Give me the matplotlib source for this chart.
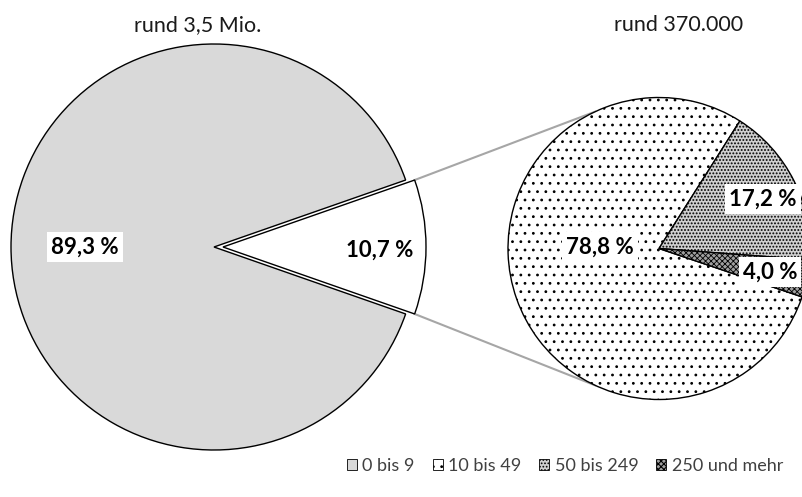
import matplotlib
matplotlib.use("Agg")
import matplotlib.pyplot as plt
from matplotlib.patches import Patch
import numpy as np

plt.rcParams['font.family'] = ['Lato', 'DejaVu Sans']
plt.rcParams['hatch.linewidth'] = 0.8

# ---- data ----
main_values = [89.3, 10.7]
main_labels = ["89,3 %", "10,7 %"]
sub_values = [78.8, 17.2, 4.0]
sub_labels = ["78,8 %", "17,2 %", "4,0 %"]
titles = ["rund 3,5 Mio.", "rund 370.000"]
legend_names = ["0 bis 9", "10 bis 49", "50 bis 249", "250 und mehr"]

W, H = 803, 497
fig = plt.figure(figsize=(W / 100, H / 100), dpi=100)
ax = fig.add_axes([0, 0, 1, 1])

def Y(py):
    return H - py

styles = [
    dict(facecolor='#d9d9d9', hatch=None, hlw=0.8),
    dict(facecolor='white', hatch='..', hlw=0.8),
    dict(facecolor='#d0d0d0', hatch='.....', hlw=0.9),
    dict(facecolor='#a0a0a0', hatch='xxxxxx', hlw=0.6),
]

def set_hlw(p, v):
    if hasattr(p, 'set_hatch_linewidth'):
        p.set_hatch_linewidth(v)
    else:
        p._hatch_linewidth = v

# left pie
lc = (214, Y(247))
lr = 203
start_main = 360 * main_values[1] / sum(main_values) / 2
wl, _ = ax.pie(main_values, center=lc, radius=lr, startangle=start_main,
               explode=[0, 9], colors=['#d9d9d9', 'white'],
               wedgeprops=dict(edgecolor='black', linewidth=1.0), frame=True)

# right pie
rc = (659, Y(248.5))
rr = 151
wr, _ = ax.pie(sub_values, center=rc, radius=rr, startangle=-18.7,
               counterclock=False, colors=['white'] * 3,
               wedgeprops=dict(edgecolor='black', linewidth=1.0), frame=True)
for w, st in zip(wr, styles[1:]):
    w.set_facecolor(st['facecolor'])
    w.set_hatch(st['hatch'])
    set_hlw(w, st['hlw'])

ax.set_xlim(0, W)
ax.set_ylim(0, H)
ax.axis('off')

# connector lines
white = wl[1]
cx, cy = white.center
rw = white.r
for th, phi in [(white.theta2, 115), (white.theta1, -115)]:
    x0 = cx + rw * np.cos(np.radians(th))
    y0 = cy + rw * np.sin(np.radians(th))
    x1 = rc[0] + rr * np.cos(np.radians(phi))
    y1 = rc[1] + rr * np.sin(np.radians(phi))
    ax.plot([x0, x1], [y0, y1], color='#a6a6a6', lw=1.5, zorder=0.5)

# titles
ax.text(198, Y(25), titles[0], ha='center', va='center', fontsize=15.5,
        color='#1a1a1a')
ax.text(679, Y(25), titles[1], ha='center', va='center', fontsize=15.5,
        color='#1a1a1a')

bbox = dict(facecolor='white', edgecolor='none', pad=3)
lab_pos_main = [(85, 247), (380, 250)]
for (px, py), t in zip(lab_pos_main, main_labels):
    ax.text(px, Y(py), t, ha='center', va='center', fontsize=16,
            fontweight='bold', bbox=bbox if t == main_labels[0] else None)
lab_pos_sub = [(600, 247), (763, 199), (770, 272)]
for (px, py), t in zip(lab_pos_sub, sub_labels):
    ax.text(px, Y(py), t, ha='center', va='center', fontsize=16,
            fontweight='bold', bbox=bbox)

handles = []
for s in styles:
    p = Patch(facecolor=s['facecolor'], hatch=s['hatch'], edgecolor='black',
              linewidth=0.6)
    set_hlw(p, s['hlw'])
    handles.append(p)
ax.legend(handles, legend_names, loc='center', ncol=4, frameon=False,
          bbox_to_anchor=(565 / W, (H - 466) / H), fontsize=13,
          labelcolor='#404040',
          handlelength=0.55, handleheight=0.55, handletextpad=0.3,
          columnspacing=1.0, borderpad=0)

fig.savefig('out.png', dpi=100)
